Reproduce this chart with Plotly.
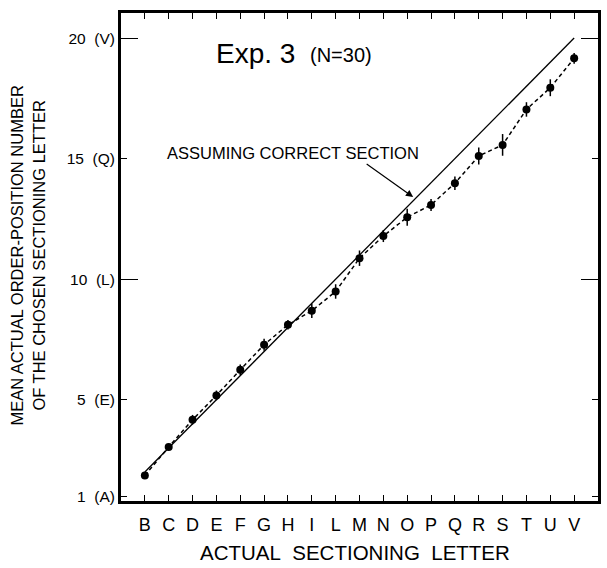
import plotly.graph_objects as go

letters = ["B", "C", "D", "E", "F", "G", "H", "I", "L", "M", "N", "O", "P", "Q", "R", "S", "T", "U", "V"]
positions = [2, 3, 4, 5, 6, 7, 8, 9, 10, 11, 12, 13, 14, 15, 16, 17, 18, 19, 20]
mean_chosen = [1.86, 3.04, 4.17, 5.18, 6.24, 7.28, 8.11, 8.69, 9.49, 10.87, 11.79, 12.57, 13.08, 13.98, 15.11, 15.57, 17.04, 17.94, 19.16]
err = [0.08, 0.12, 0.2, 0.2, 0.22, 0.25, 0.2, 0.3, 0.3, 0.32, 0.25, 0.35, 0.25, 0.28, 0.35, 0.45, 0.3, 0.35, 0.22]
ytick_vals = [1, 5, 10, 15, 20]
ytick_text = ["1 &nbsp;(A)", "5 &nbsp;(E)", "10 &nbsp;(L)", "15 &nbsp;(Q)", "20 &nbsp;(V)"]
ylong_ticks = [10, 20]

FONT = "Liberation Sans, Arial, sans-serif"

fig = go.Figure()
# identity line
fig.add_trace(go.Scatter(x=[positions[0], positions[-1]], y=[positions[0], positions[-1]],
                         mode="lines", line=dict(color="black", width=1.3), showlegend=False,
                         hoverinfo="skip"))
# data
fig.add_trace(go.Scatter(x=positions, y=mean_chosen, mode="lines+markers",
                         line=dict(color="black", width=1.5, dash="4px,3px"),
                         marker=dict(color="black", size=8),
                         error_y=dict(type="data", array=err, color="black", thickness=1.5, width=0),
                         showlegend=False))
# invisible trace on y2 for long ticks
fig.add_trace(go.Scatter(x=[positions[0]], y=[positions[0]], yaxis="y2", mode="markers",
                         marker=dict(opacity=0), showlegend=False, hoverinfo="skip"))

fig.update_layout(
    width=607, height=568,
    margin=dict(l=121, r=6, t=13, b=67),
    paper_bgcolor="white", plot_bgcolor="white",
    font=dict(family=FONT, color="black"),
    xaxis=dict(range=[1, 21], tickmode="array", tickvals=positions, ticktext=letters,
               ticks="inside", ticklen=6, tickwidth=1.2, tickcolor="black",
               showline=True, linewidth=3, linecolor="black", mirror="ticks",
               showgrid=False, zeroline=False, tickfont=dict(size=18, family=FONT),
               ticklabelstandoff=5),
    yaxis=dict(range=[0.8, 21.04], tickmode="array", tickvals=ytick_vals, ticktext=ytick_text,
               ticks="inside", ticklen=6, tickwidth=1.2, tickcolor="black",
               showline=True, linewidth=3, linecolor="black", mirror="ticks",
               showgrid=False, zeroline=False, tickfont=dict(size=15.5, family=FONT)),
    yaxis2=dict(range=[0.8, 21.04], overlaying="y", side="left", tickmode="array",
                tickvals=ylong_ticks, showticklabels=False, ticks="inside", ticklen=17,
                tickwidth=1.2, tickcolor="black", showline=False, mirror="ticks",
                showgrid=False, zeroline=False),
)

fig.add_annotation(text="Exp. 3", xref="paper", yref="paper", x=0.194, y=0.918,
                   xanchor="left", yanchor="middle", showarrow=False,
                   font=dict(size=28, family=FONT))
fig.add_annotation(text="(N=30)", xref="paper", yref="paper", x=0.392, y=0.914,
                   xanchor="left", yanchor="middle", showarrow=False,
                   font=dict(size=20, family=FONT))
fig.add_annotation(text="ASSUMING CORRECT SECTION", xref="paper", yref="paper", x=0.629, y=0.713,
                   xanchor="right", yanchor="middle", showarrow=False,
                   font=dict(size=16.5, family=FONT))
fig.add_annotation(text="", xref="paper", yref="paper", x=0.6125, y=0.623,
                   ax=-48, ay=-34, showarrow=True, arrowhead=2, arrowsize=1.2,
                   arrowwidth=1.2, arrowcolor="black")
fig.add_annotation(text="ACTUAL&nbsp; SECTIONING&nbsp; LETTER", xref="paper", yref="paper", x=0.49, y=-0.105,
                   xanchor="center", yanchor="middle", showarrow=False,
                   font=dict(size=20.5, family=FONT))
fig.add_annotation(text="MEAN ACTUAL ORDER-POSITION NUMBER<br>OF THE CHOSEN SECTIONING LETTER",
                   xref="paper", yref="paper", x=-0.196, y=0.504, textangle=-90,
                   xanchor="center", yanchor="middle", showarrow=False,
                   font=dict(size=16.5, family=FONT))

fig.write_html("out.html")
